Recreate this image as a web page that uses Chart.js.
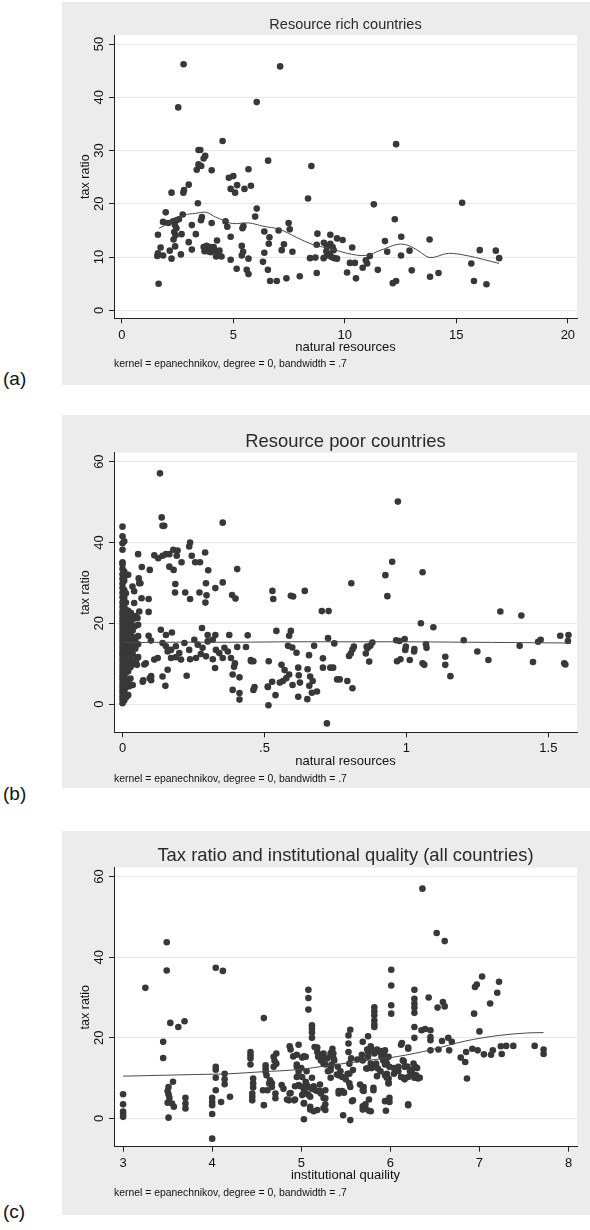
<!DOCTYPE html>
<html>
<head>
<meta charset="utf-8">
<script src="https://cdn.jsdelivr.net/npm/chart.js@4.4.0/dist/chart.umd.min.js"></script>
<style>
  body { margin: 0; width: 590px; height: 1230px; background: #fff; position: relative;
         font-family: "Liberation Sans", Arial, Helvetica, sans-serif; }
  .panel { position: absolute; left: 62px; width: 528px; background: #ececec; }
  .panel canvas { display: block; }
  .tag { position: absolute; left: 3px; font-size: 19px; line-height: 19px; color: #111; }
</style>
</head>
<body>
<div class="panel" style="top:2px;height:383px"><canvas id="chartA" width="528" height="383"></canvas></div>
<div class="tag" style="top:369px">(a)</div>
<div class="panel" style="top:415px;height:373px"><canvas id="chartB" width="528" height="373"></canvas></div>
<div class="tag" style="top:784px">(b)</div>
<div class="panel" style="top:831px;height:384px"><canvas id="chartC" width="528" height="384"></canvas></div>
<div class="tag" style="top:1202px">(c)</div>

<script>
// ---- data ----
var note = 'kernel = epanechnikov, degree = 0, bandwidth = .7';

// (a) resource rich countries: [natural resources, tax ratio]
var richPoints = [
  [2.77,46.2],[7.1,45.8],[2.53,38.1],[6.05,39.1],[4.52,31.8],[12.3,31.2],[3.44,30.1],[3.52,30.1],
  [3.74,29.0],[3.67,28.5],[3.44,27.4],[3.56,27.1],[3.36,26.4],[4.03,26.3],[6.56,28.1],[8.5,27.1],
  [5.68,26.5],[4.8,24.9],[5.0,25.2],[5.17,23.5],[3.0,23.6],[2.79,22.6],[2.76,22.1],[2.23,22.1],
  [4.88,22.8],[5.08,22.1],[5.5,22.8],[5.79,23.4],[3.41,20.1],[8.35,21.0],[11.3,19.9],[15.26,20.2],
  [6.05,19.1],[5.98,17.6],[1.97,18.4],[2.73,18.0],[1.85,16.6],[2.08,16.4],[2.3,16.7],[2.45,16.9],
  [2.56,17.1],[2.38,16.0],[2.45,15.4],[2.35,14.7],[2.32,13.3],[2.41,14.1],[3.59,17.5],[3.55,16.9],
  [4.03,16.4],[4.65,16.7],[4.73,15.7],[5.45,15.8],[5.41,15.4],[6.39,14.8],[6.62,13.7],[7.03,15.0],
  [7.48,16.4],[7.53,15.2],[8.77,14.4],[8.74,12.3],[9.35,14.2],[9.65,13.5],[9.35,12.5],[9.9,13.2],
  [9.06,12.7],[9.2,12.0],[9.45,11.9],[10.33,11.8],[11.8,13.0],[12.24,17.1],[12.53,13.8],[13.8,13.3],
  [12.9,11.2],[11.9,11.0],[12.52,10.3],[11.12,10.2],[10.94,9.4],[11.0,8.8],[10.8,8.0],[10.23,8.9],
  [10.45,8.9],[10.1,7.1],[10.5,6.0],[11.48,7.6],[13.0,7.5],[12.15,5.1],[12.3,5.5],[13.82,6.3],
  [14.2,7.0],[15.67,8.8],[15.79,5.5],[16.35,4.9],[16.05,11.3],[16.77,11.2],[16.92,9.8],[1.62,14.2],
  [1.62,10.7],[1.59,10.2],[1.74,11.8],[1.85,10.3],[2.15,11.2],[2.23,9.7],[1.65,5.0],[2.65,10.5],
  [2.39,12.0],[2.68,14.3],[3.0,12.8],[3.14,16.0],[3.14,11.4],[3.32,14.3],[3.67,11.9],[3.74,11.3],
  [3.86,11.6],[3.97,11.9],[4.05,11.4],[4.12,11.9],[4.2,11.2],[3.92,11.0],[3.71,11.1],[3.8,12.1],
  [4.0,10.9],[4.27,13.1],[4.23,10.1],[4.35,10.3],[4.47,10.1],[4.38,11.2],[4.88,9.5],[4.88,13.8],
  [5.38,12.1],[5.44,11.0],[5.38,10.3],[5.15,7.8],[5.6,7.6],[5.68,6.8],[5.68,9.7],[6.33,9.1],
  [6.39,10.8],[6.55,7.6],[6.59,12.5],[6.65,5.5],[6.95,5.5],[7.17,11.3],[7.27,12.4],[7.65,11.0],
  [7.38,6.0],[7.98,6.4],[8.44,9.8],[8.68,9.9],[8.74,7.0],[9.05,9.8],[9.2,10.3],[9.32,10.6],
  [9.4,10.0],[9.53,9.8],[9.5,11.3],[9.17,11.1],[9.65,9.7]
];
var richFitX = [1.67, 2.38, 2.83, 3.29, 3.79, 4.2, 4.58, 4.95, 5.71, 6.32, 7.08, 7.83, 8.59, 9.35, 10.1, 10.94, 11.62, 12.38, 12.83, 13.29, 13.82, 14.65, 15.56, 16.17, 16.92];
var richFitY = [15.4, 16.9, 17.9, 18.2, 18.4, 17.5, 16.9, 16.3, 16.4, 15.8, 15.2, 13.7, 12.3, 11.6, 10.7, 10.3, 11.3, 12.4, 12.2, 11.2, 9.9, 10.7, 10.2, 9.6, 8.8];
var richXTicks = [0, 5, 10, 15, 20];
var richXLabels = ['0', '5', '10', '15', '20'];
var richYTicks = [0, 10, 20, 30, 40, 50];

// (b) resource poor countries
var poorPoints = [
  [0,0.2],[0,1.1],[0,1.9],[0,2.8],[0,3.5],[0,4.4],[0,5.2],[0,6.1],[0,6.9],[0,7.8],[0,8.6],[0,9.5],
  [0,10.4],[0,11.2],[0,12.1],[0,12.8],[0,13.7],[0,14.5],[0,15.4],[0,16.2],[0,17.1],[0,17.9],[0,18.8],
  [0,19.6],[0,20.5],[0,21.3],[0,22.2],[0,23.0],[0,24.1],[0,25.2],[0,26.4],[0,27.5],[0,28.7],[0,29.8],
  [0,31.0],[0,32.1],[0,33.4],[0,34.6],[0,35.1],[0,38.2],[0,39.8],[0,41.5],[0,43.9],
  [0.006,0.9],[0.006,3.5],[0.006,5.2],[0.006,6.8],[0.006,8.4],[0.006,9.9],[0.006,11.3],[0.006,12.7],
  [0.006,14.1],[0.006,15.6],[0.006,17.0],[0.006,18.3],[0.006,19.6],[0.006,21.0],[0.006,22.4],[0.006,24.0],
  [0.006,26.3],[0.006,28.2],[0.006,30.5],[0.006,32.8],[0.006,40.3],
  [0.012,1.6],[0.012,4.1],[0.012,6.0],[0.012,7.7],[0.012,9.3],[0.012,10.8],[0.012,12.2],[0.012,13.5],
  [0.012,14.9],[0.012,16.3],[0.012,17.7],[0.012,19.1],[0.012,20.4],[0.012,21.8],[0.012,23.3],[0.012,25.1],
  [0.012,27.4],[0.012,31.8],
  [0.02,2.2],[0.02,5.5],[0.02,8.1],[0.02,10.2],[0.02,11.9],[0.02,13.3],[0.02,14.6],[0.02,16.0],
  [0.02,17.4],[0.02,18.9],[0.02,20.3],[0.02,21.7],[0.02,23.1],[0.02,32.0],
  [0.028,6.3],[0.028,9.1],[0.028,11.1],[0.028,12.9],[0.028,14.3],[0.028,15.8],[0.028,17.1],[0.028,18.6],
  [0.028,20.0],[0.028,21.4],[0.029,22.5],
  [0.036,4.7],[0.036,9.8],[0.036,12.3],[0.036,14.7],[0.036,16.6],[0.036,18.2],[0.036,20.9],
  [0.045,10.7],[0.045,13.7],[0.045,15.9],[0.045,19.3],[0.045,21.8],
  [0.055,11.6],[0.055,14.8],[0.055,16.8],[0.055,19.6],
  [0.024,4.4],[0.132,57.1],[0.138,46.2],[0.147,44.1],[0.141,44.1],[0.353,44.9],[0.238,40.0],[0.235,39.0],
  [0.055,37.1],[0.112,36.8],[0.126,36.1],[0.141,36.7],[0.153,37.1],[0.165,37.1],[0.179,38.2],[0.194,38.0],
  [0.191,36.7],[0.244,36.7],[0.256,35.1],[0.273,35.1],[0.291,37.5],[0.208,35.1],[0.18,33.2],[0.165,34.0],
  [0.302,33.1],[0.404,33.4],[0.068,33.9],[0.096,33.2],[0.035,29.1],[0.041,27.9],[0.059,29.9],[0.067,26.2],
  [0.092,26.0],[0.092,22.8],[0.186,29.7],[0.185,27.6],[0.221,27.6],[0.238,26.0],[0.271,27.6],[0.294,29.9],
  [0.296,26.9],[0.292,25.1],[0.327,28.7],[0.353,30.1],[0.386,27.0],[0.398,26.1],[0.041,25.0],[0.059,22.9],
  [0.053,21.3],[0.029,22.5],[0.057,31.1],[0.063,29.9],[0.135,18.4],[0.153,17.1],[0.174,17.7],[0.092,16.9],
  [0.1,15.7],[0.28,18.8],[0.3,17.1],[0.327,17.1],[0.376,17.1],[0.441,17.0],[0.435,14.1],[0.404,14.1],
  [0.141,15.1],[0.153,14.3],[0.171,13.4],[0.188,14.3],[0.2,12.6],[0.218,15.1],[0.235,13.4],[0.253,15.9],
  [0.265,14.7],[0.282,13.9],[0.3,15.5],[0.318,15.9],[0.329,13.4],[0.341,12.6],[0.359,13.9],[0.371,13.0],
  [0.382,11.4],[0.353,11.4],[0.318,11.1],[0.294,11.8],[0.276,12.4],[0.259,11.4],[0.238,11.1],[0.206,11.0],
  [0.188,11.6],[0.171,11.4],[0.159,13.0],[0.124,11.4],[0.112,11.0],[0.082,10.1],[0.047,10.1],[0.159,8.5],
  [0.141,6.8],[0.151,4.5],[0.096,6.4],[0.073,5.9],[0.226,7.0],[0.388,7.3],[0.412,6.6],[0.388,3.5],
  [0.412,2.7],[0.412,1.1],[0.453,10.6],[0.465,4.2],[0.512,4.2],[0.514,-0.3],[0.326,8.9],[0.006,3.5],
  [0.077,9.8],[0.071,5.5],[0.101,5.9],[0.101,6.9],[0.051,9.7],[0.051,11.3],[0.018,2.2],
  [0.806,29.9],[0.926,31.9],[0.95,35.2],[0.933,26.7],[0.97,50.1],[1.057,32.6],[1.051,20.0],[1.095,19.0],
  [1.071,13.9],[1.027,13.0],[1.012,10.9],[1.057,10.1],[1.063,9.7],[0.964,15.8],[0.976,15.6],[0.994,16.1],
  [0.996,13.4],[0.967,10.6],[0.979,11.1],[1.137,11.7],[1.137,9.7],[1.155,6.9],[1.202,15.8],[1.25,13.0],
  [1.289,10.9],[1.331,22.9],[1.405,21.9],[1.399,14.4],[1.446,10.4],[1.464,15.4],[1.473,15.9],[1.542,16.9],
  [1.571,17.1],[1.569,15.6],[1.556,10.1],[1.56,9.8],[0.81,13.5],[0.815,14.2],[0.804,12.5],[0.798,11.9],
  [0.81,3.9],[0.792,5.7],[0.857,12.5],[0.863,13.8],[0.873,14.4],[0.869,10.5],[0.702,23.0],[0.726,23.0],
  [0.724,16.3],[0.746,15.0],[0.706,11.3],[0.706,9.0],[0.732,9.0],[0.742,9.0],[0.72,-4.8],[0.756,6.1],
  [0.765,6.1],[0.642,28.0],[0.601,26.6],[0.593,26.8],[0.528,28.0],[0.531,26.0],[0.542,18.1],[0.593,18.1],
  [0.587,16.9],[0.583,14.4],[0.598,14.0],[0.613,12.7],[0.657,12.1],[0.675,14.4],[0.619,9.0],[0.621,7.1],
  [0.625,5.3],[0.652,8.6],[0.661,6.8],[0.67,5.7],[0.658,4.5],[0.667,2.8],[0.685,3.1],[0.651,1.2],
  [0.619,1.8],[0.56,9.7],[0.571,8.4],[0.587,7.3],[0.577,6.4],[0.565,5.7],[0.554,5.3],[0.527,5.5],
  [0.512,4.3],[0.539,2.2],[0.599,4.7],[0.515,10.6],[0.452,10.9],[0.461,10.6],[0.461,3.5],[0.393,9.2],
  [0.396,10.1],[0.86,14.2],[0.88,15.2],[0.998,14.2],[1.028,13.6],[1.069,14.8]
];
var poorFitX = [0, 0.2, 0.4, 0.6, 0.8, 1.0, 1.2, 1.4, 1.58];
var poorFitY = [15.2, 15.3, 15.3, 15.4, 15.4, 15.4, 15.3, 15.2, 15.1];
var poorXTicks = [0, 0.5, 1, 1.5];
var poorXLabels = ['0', '.5', '1', '1.5'];
var poorYTicks = [0, 20, 40, 60];

// (c) all countries: [institutional quality, tax ratio]
var instPoints = [
  [3.0,6.0],[3.0,3.5],[3.0,1.7],[3.0,1.1],[3.0,0.4],[3.25,32.4],[3.49,43.7],[3.49,36.7],[3.53,23.7],
  [3.62,22.7],[3.69,24.1],[3.45,19.0],[3.45,15.0],[3.56,9.1],[3.51,7.8],[3.5,6.8],[3.51,6.0],[3.52,5.1],
  [3.5,3.9],[3.55,3.7],[3.57,2.9],[3.51,0.2],[3.7,5.1],[3.7,3.7],[3.7,2.5],[4.0,5.1],[4.0,4.1],[4.0,3.3],
  [4.0,1.1],[4.0,-5.0],[4.04,37.4],[4.12,36.6],[4.04,12.8],[4.04,12.1],[4.04,10.1],[4.04,7.0],[4.1,4.1],
  [4.14,11.1],[4.14,9.7],[4.14,8.5],[4.2,5.4],[4.43,16.5],[4.43,15.7],[4.43,14.9],[4.43,13.4],[4.46,9.9],
  [4.46,8.7],[4.46,7.7],[4.45,6.2],[4.45,5.4],[4.45,4.5],[4.58,24.9],[4.57,7.0],[4.58,3.3],[4.6,13.2],
  [4.6,12.4],[4.6,11.6],[4.61,10.7],[4.69,15.3],[4.7,14.3],[4.72,16.1],[4.72,13.6],[4.69,12.8],[4.67,8.7],
  [4.65,9.5],[4.71,6.2],[4.71,5.0],[4.67,7.8],[4.64,8.7],[4.62,7.0],[4.78,8.3],[4.8,7.4],[4.86,4.5],
  [4.92,4.5],[4.87,6.2],[4.87,17.9],[4.88,17.1],[4.97,18.3],[4.91,15.4],[4.95,15.8],[5.01,15.1],[5.05,15.3],
  [5.08,31.9],[5.08,29.9],[5.08,27.0],[5.12,23.1],[5.12,22.3],[5.12,21.3],[5.12,20.0],[5.15,17.7],[5.18,16.5],
  [5.19,15.3],[5.22,14.4],[5.25,16.1],[5.29,14.9],[5.25,13.6],[5.33,15.7],[5.37,14.4],[5.33,12.8],[4.95,12.8],
  [4.97,11.6],[4.95,10.3],[5.01,10.3],[5.05,9.1],[4.97,8.3],[5.03,7.8],[5.08,7.8],[5.12,7.4],[5.06,6.2],
  [5.1,5.4],[5.01,5.8],[5.03,3.7],[5.1,2.9],[5.03,-0.2],[5.16,7.0],[5.22,6.2],[5.27,7.0],[5.27,5.0],
  [5.27,3.5],[5.27,2.1],[5.18,2.1],[5.35,17.3],[5.36,16.1],[5.33,12.0],[5.41,12.8],[5.42,10.7],[5.46,10.3],
  [5.52,11.1],[5.58,12.0],[5.5,9.7],[5.42,6.2],[5.48,6.4],[5.47,0.8],[5.55,-0.4],[5.55,22.0],[5.53,20.6],
  [5.53,18.6],[5.53,16.5],[5.56,14.9],[5.54,13.6],[5.54,11.1],[5.54,8.7],[5.55,7.8],[5.58,4.5],[5.69,19.0],
  [5.75,20.4],[5.69,14.4],[5.75,15.3],[5.78,13.6],[5.8,12.8],[5.73,12.4],[5.75,16.5],[5.78,17.3],[5.7,7.8],
  [5.69,7.0],[5.72,2.5],[5.76,1.9],[5.69,3.0],[5.81,7.0],[5.82,27.6],[5.82,26.6],[5.82,25.6],[5.82,24.3],
  [5.82,23.3],[5.82,22.7],[5.82,16.1],[5.84,13.6],[5.86,12.4],[5.88,16.5],[5.9,15.3],[5.92,14.4],[5.94,16.9],
  [5.96,13.6],[5.98,15.3],[5.99,12.8],[5.96,11.1],[5.98,9.9],[5.98,8.7],[5.94,10.7],[6.04,11.1],[5.95,1.9],
  [5.99,4.1],[6.01,36.9],[6.01,33.0],[6.01,28.1],[6.01,26.0],[6.12,18.3],[6.2,17.3],[6.14,14.4],[6.09,12.8],
  [6.12,10.3],[6.16,9.7],[6.2,10.3],[6.24,12.1],[6.26,13.6],[6.16,12.8],[6.2,3.3],[6.27,31.9],[6.27,29.7],
  [6.27,28.5],[6.27,27.5],[6.27,26.2],[6.27,22.7],[6.27,20.0],[6.28,12.8],[6.29,10.7],[6.31,9.9],[6.27,10.1],
  [6.33,10.1],[6.36,57.0],[6.43,30.0],[6.35,21.9],[6.39,22.2],[6.45,21.9],[6.45,20.2],[6.45,19.4],[6.45,16.9],
  [6.52,46.0],[6.61,44.0],[6.53,27.5],[6.59,28.9],[6.61,27.8],[6.54,17.1],[6.58,19.2],[6.65,20.0],[6.69,19.0],
  [6.66,16.9],[6.79,15.1],[6.84,14.0],[6.86,9.9],[6.85,16.5],[6.92,17.3],[6.98,16.9],[6.94,26.0],[7.0,21.6],
  [7.05,15.9],[7.12,28.5],[7.15,16.9],[7.2,31.2],[7.22,33.9],[7.03,35.2],[6.97,33.2],[6.95,32.6],[7.24,17.9],
  [7.3,18.0],[7.38,18.0],[7.62,18.0],[7.72,17.1],[7.72,16.0],[7.13,15.8],[7.25,16.0],
  [5.03,15.4],[4.95,13.4],[5.0,12.5],[5.06,11.7],[5.12,10.1],[5.06,8.4],[4.99,8.0],[5.03,6.8],[5.08,5.9],
  [5.03,3.8],[5.1,2.2],[5.14,1.8],[4.93,8.0],[4.88,6.3],[4.84,4.7],[4.93,4.7],[5.18,17.6],[5.21,15.8],
  [5.25,15.0],[5.27,13.4],[5.33,16.2],[5.36,15.0],[5.34,13.4],[5.3,11.7],[5.33,10.1],[5.4,10.9],[5.44,11.7],
  [5.21,6.8],[5.25,5.1],[5.18,6.8],[5.14,8.0],[5.21,8.4],[5.25,2.6],[5.42,6.8],[5.46,6.8],[5.57,4.3],
  [5.66,8.4],[5.7,6.8],[5.72,3.5],[5.69,2.2],[5.78,1.8],[5.76,4.7],[5.81,7.6],[5.63,14.6],[5.68,15.8],
  [5.74,17.1],[5.78,17.9],[5.85,17.1],[5.89,16.7],[5.93,15.8],[5.96,15.0],[5.94,13.4],[5.89,11.7],[5.85,10.5],
  [5.79,12.5],[5.74,12.4],[5.96,10.1],[5.98,8.8],[5.94,4.3],[5.99,5.1],[6.04,12.5],[6.09,11.7],[6.15,14.2],
  [6.19,12.9],[6.22,11.7],[6.3,12.5],[6.32,10.1],[6.26,10.9],[6.15,10.1],[6.13,18.7],[6.2,17.6],[6.2,3.5]
];
var instFitX = [3.0, 3.81, 4.19, 4.57, 4.95, 5.33, 5.71, 6.09, 6.47, 6.84, 7.22, 7.53, 7.72];
var instFitY = [10.5, 10.9, 11.1, 11.6, 12.1, 13.2, 14.3, 15.4, 17.1, 19.2, 20.6, 21.2, 21.3];
var instXTicks = [3, 4, 5, 6, 7, 8];
var instXLabels = ['3', '4', '5', '6', '7', '8'];
var instYTicks = [0, 20, 40, 60];

// ---- drawing ----
Chart.defaults.font.family = '"Liberation Sans", Arial, Helvetica, sans-serif';
Chart.defaults.color = '#111';

// white plot region inside the grey graph region
var plotRegion = {
  id: 'plotRegion',
  beforeDraw: function (chart) {
    var a = chart.chartArea, ctx = chart.ctx;
    ctx.save();
    ctx.fillStyle = '#ffffff';
    ctx.fillRect(a.left, a.top, a.right - a.left, a.bottom - a.top);
    ctx.restore();
  }
};

function panelChart(id, p) {
  return new Chart(document.getElementById(id).getContext('2d'), {
    type: 'scatter',
    data: {
      datasets: [{
        type: 'line',
        data: p.fitX.map(function (x, i) { return {x: x, y: p.fitY[i]}; }),
        borderColor: '#4a4a4a',
        borderWidth: 1,
        pointRadius: 0,
        fill: false,
        tension: 0.35,
        order: 0
      }, {
        data: p.points.map(function (d) { return {x: d[0], y: d[1]}; }),
        backgroundColor: '#383838',
        pointRadius: 3.3,
        pointBorderWidth: 0,
        order: 1
      }]
    },
    options: {
      responsive: false,
      animation: false,
      events: [],
      layout: { padding: { left: 0, right: 13, top: 0, bottom: 0 } },
      plugins: {
        legend: { display: false },
        tooltip: { enabled: false },
        title: {
          display: true, text: p.title, fullSize: false, color: '#2a2a2a',
          font: { size: p.titleSize, weight: 'normal' },
          padding: { top: p.titleTop, bottom: p.titleBottom }
        },
        subtitle: {
          display: true, text: note, position: 'bottom', align: 'start', fullSize: false,
          color: '#111', font: { size: 10.4 },
          padding: { top: 0, bottom: p.noteBottom }
        }
      },
      scales: {
        x: {
          type: 'linear', min: p.xMin, max: p.xMax,
          afterBuildTicks: function (s) { s.ticks = p.xTicks.map(function (v) { return {value: v}; }); },
          afterFit: function (s) { s.height = p.xHeight; },
          ticks: {
            font: { size: 13 }, padding: p.xTickPad, maxRotation: 0,
            callback: function (v, i) { return p.xLabels[i]; }
          },
          grid: { drawOnChartArea: false, drawTicks: true, tickLength: 5, tickColor: '#222' },
          border: { color: '#222', width: 1 },
          title: { display: true, text: p.xTitle, font: { size: 13 }, padding: { top: 0, bottom: p.xTitleBottom } }
        },
        y: {
          type: 'linear', min: p.yMin, max: p.yMax,
          afterBuildTicks: function (s) { s.ticks = p.yTicks.map(function (v) { return {value: v}; }); },
          afterFit: function (s) { s.width = 52; },
          ticks: {
            font: { size: 13 }, padding: 2, minRotation: 90, maxRotation: 90, crossAlign: 'center',
            callback: function (v) { return String(v); }
          },
          grid: { color: '#e6e6e6', lineWidth: 1, drawTicks: true, tickLength: 5, tickColor: '#222' },
          border: { color: '#222', width: 1 },
          title: { display: true, text: 'tax ratio', font: { size: 12.5 }, padding: { top: 15.8, bottom: 0 } }
        }
      }
    },
    plugins: [plotRegion]
  });
}

panelChart('chartA', {
  points: richPoints, fitX: richFitX, fitY: richFitY,
  xTicks: richXTicks, xLabels: richXLabels, yTicks: richYTicks,
  xMin: -0.35, xMax: 20.41, yMin: -1.5, yMax: 51.7,
  title: 'Resource rich countries', titleSize: 14.5, titleTop: 14.3, titleBottom: 1.3,
  noteBottom: 14.46, xHeight: 39.76, xTickPad: 4.5, xTitleBottom: 2.56,
  xTitle: 'natural resources'
});

panelChart('chartB', {
  points: poorPoints, fitX: poorFitX, fitY: poorFitY,
  xTicks: poorXTicks, xLabels: poorXLabels, yTicks: poorYTicks,
  xMin: -0.03, xMax: 1.601, yMin: -7.0, yMax: 62.2,
  title: 'Resource poor countries', titleSize: 18.4, titleTop: 15.66, titleBottom: 0,
  noteBottom: 2.76, xHeight: 40.46, xTickPad: 3.8, xTitleBottom: 3.96,
  xTitle: 'natural resources'
});

panelChart('chartC', {
  points: instPoints, fitX: instFitX, fitY: instFitY,
  xTicks: instXTicks, xLabels: instXLabels, yTicks: instYTicks,
  xMin: 2.898, xMax: 8.095, yMin: -7.0, yMax: 62.2,
  title: 'Tax ratio and institutional quality (all countries)', titleSize: 18.4, titleTop: 13.96, titleBottom: 0.66,
  noteBottom: 15.46, xHeight: 40.36, xTickPad: 4.4, xTitleBottom: 3.56,
  xTitle: 'institutional quaility'
});
</script>
</body>
</html>
